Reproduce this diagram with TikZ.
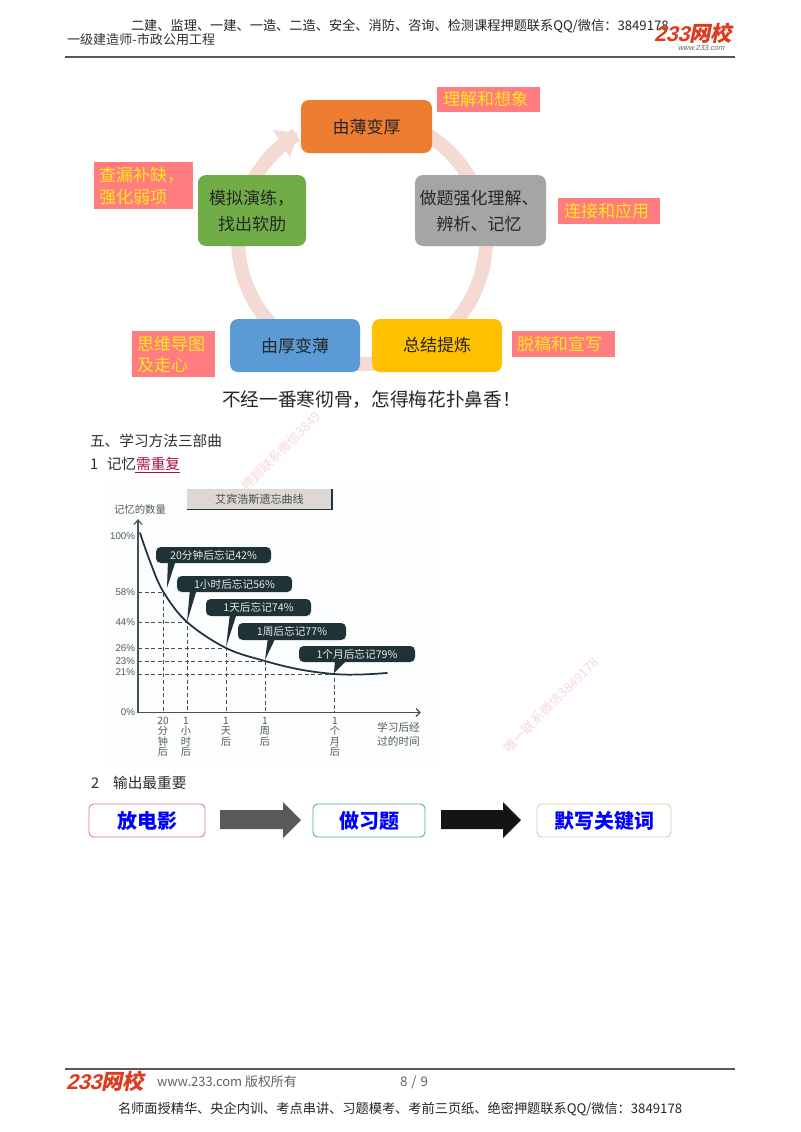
\documentclass[tikz,border=0pt]{standalone}
\usepackage{fontspec}
\setmainfont{Noto Sans CJK SC}
\newfontfamily\latinf{Liberation Sans}
\newfontfamily\logolat[FakeSlant=0.25]{Liberation Sans}
\newfontfamily\logocjk[FakeSlant=0.2]{Noto Sans CJK SC}
\definecolor{ringc}{HTML}{F5D9D3}
\definecolor{orangeb}{HTML}{ED7D31}
\definecolor{greenb}{HTML}{70AD47}
\definecolor{greyb}{HTML}{A5A5A5}
\definecolor{blueb}{HTML}{5B9BD5}
\definecolor{yellowb}{HTML}{FFC000}
\definecolor{pinkl}{HTML}{FF7C80}
\definecolor{yellowt}{HTML}{FFE81A}
\definecolor{calloutc}{HTML}{1F3236}
\definecolor{axisc}{HTML}{4A4F50}
\definecolor{lablc}{HTML}{55595A}
\definecolor{logored}{HTML}{DE3A1E}
\definecolor{wmark}{HTML}{F6D8DA}
\definecolor{chartbg}{HTML}{FBFDFE}
\definecolor{btnc}{HTML}{DDD8D4}
\definecolor{redt}{HTML}{A5123F}
\definecolor{fa}{HTML}{D9789B}
\definecolor{fb}{HTML}{5BA8B8}
\definecolor{fc}{HTML}{CDD6A8}
\newcommand{\pxbox}[7]{%
  \pgfmathsetmacro{\bw}{(#5-#3)*0.75}%
  \pgfmathsetmacro{\bh}{(#6-#4)*0.75}%
  \node[#2,minimum width=\bw pt,minimum height=\bh pt] (#1) at ({(#3+#5)/2},{(#4+#6)/2}) {#7};}
\tikzset{
  px/.style={inner sep=0pt,outer sep=0pt},
  cyc/.style={px,rounded corners=6pt,font=\fontsize{12.75pt}{15pt}\selectfont,text=black!85},
  cyct/.style={px,text=black!85,font=\fontsize{12.75pt}{15pt}\selectfont},
  tag/.style={px,fill=pinkl,text=yellowt,font=\fontsize{12.75pt}{15pt}\selectfont},
  tagt/.style={px,anchor=west,text=yellowt,font=\fontsize{12.75pt}{15pt}\selectfont},
  call/.style={px,rounded corners=3.5pt,fill=calloutc,text=white!92!black,font=\fontsize{8pt}{9pt}\selectfont},
  ptr/.style={fill=calloutc},
  body/.style={px,anchor=west,text=black!82,font=\fontsize{11pt}{13pt}\selectfont},
  ylab/.style={px,anchor=east,text=lablc,font=\latinf\fontsize{7.3pt}{9pt}\selectfont},
  xlab/.style={px,text=lablc,align=center,anchor=north,font=\fontsize{7.6pt}{7.9pt}\selectfont},
  guide/.style={densely dashed,line width=0.5pt,axisc},
  flow/.style={px,rounded corners=3.5pt,fill=white,line width=0.7pt,text=blue,font=\fontsize{15pt}{18pt}\selectfont\bfseries},
  wm/.style={px,text=wmark,rotate=45,font=\fontsize{9.6pt}{10pt}\selectfont},
}
\begin{document}
\begin{tikzpicture}[x=0.75pt,y=-0.75pt]
\useasboundingbox (0,0) rectangle (800,1132);
\fill[white] (0,0) rectangle (800,1132);
% header
\node[px,anchor=west,text=black!85,font=\fontsize{9.9pt}{12pt}\selectfont] (hd1) at (131,26) {二建、监理、一建、一造、二造、安全、消防、咨询、检测课程押题联系QQ/微信：3849178};
\node[px,anchor=west,text=black!80,font=\fontsize{9.8pt}{12pt}\selectfont] (hd2) at (67,40) {一级建造师-市政公用工程};
\node[px,anchor=west,text=logored,font=\fontsize{16pt}{16pt}\selectfont\bfseries] (logo1) at (654,33) {\logolat 233\logocjk 网校};
\node[px,text=black!60,font=\logolat\fontsize{5.6pt}{6pt}\selectfont] (logo1b) at (701,48) {www.233.com};
\draw[line width=0.8pt,black!65] (65,57) coordinate (r1a) -- (735,57) coordinate (r1b);
% ring
\draw[ringc,line width=10.5pt] plot[domain=60:-238,samples=90,smooth,variable=\a] ({362+124*cos(\a)},{240-124*sin(\a)});
\fill[ringc] (273,130) -- (298,133) -- (290,157) -- cycle;
% cycle boxes
\pxbox{thick}{cyc,fill=orangeb}{301}{100}{432}{153}{由薄变厚}
\pxbox{train}{cyc,fill=greenb}{198}{175}{306}{246}{}
\node[cyct,anchor=west] (train1) at (209,198) {模拟演练，};
\node[cyct,anchor=west] (train2) at (218,224) {找出软肋};
\pxbox{drill}{cyc,fill=greyb}{415}{175}{546}{246}{}
\node[cyct] (drill1) at (479,198) {做题强化理解、};
\node[cyct] (drill2) at (479,224) {辨析、记忆};
\pxbox{thin}{cyc,fill=blueb}{230}{319}{360}{372}{由厚变薄}
\pxbox{sum}{cyc,fill=yellowb}{372}{319}{502}{372}{总结提炼}
% tags
\pxbox{t1}{tag}{437}{87}{540}{112}{}
\node[tagt] (t1a) at (443,99) {理解和想象};
\pxbox{t2}{tag}{558}{198}{660}{224}{}
\node[tagt] (t2a) at (564,211) {连接和应用};
\pxbox{t3}{tag}{512}{331}{615}{357}{}
\node[tagt] (t3a) at (517,344) {脱稿和宣写};
\pxbox{t4}{tag}{94}{162}{193}{209}{}
\node[tagt] (t4a) at (99,175) {查漏补缺，};
\node[tagt] (t4b) at (99,197) {强化弱项};
\pxbox{t5}{tag}{132}{331}{215}{377}{}
\node[tagt] (t5a) at (137,344) {思维导图};
\node[tagt] (t5b) at (137,365) {及走心};
\node[px,anchor=west,text=black!85,font=\fontsize{14pt}{17pt}\selectfont] (motto) at (222,400) {不经一番寒彻骨，怎得梅花扑鼻香！};
% headings
\node[body] (h5) at (90,441) {五、学习方法三部曲};
\node[body] (h51) at (90,464) {1\hspace{6.5pt}记忆\textcolor{redt}{需重复}};
\draw[line width=0.6pt,redt] (135,472) coordinate (ula) -- (180,472) coordinate (ulb);
% chart background
\fill[chartbg] (105,480) rectangle (440,768);
\node[wm] (wm1) at (281,451) {押题联系微信3849};
\node[wm] (wm2) at (551,705) {唯一联系微信3849178};
% chart button
\pxbox{btn}{px,fill=btnc,text=black!70,font=\fontsize{8.3pt}{9pt}\selectfont}{187}{489}{332}{509}{艾宾浩斯遗忘曲线}
\draw[calloutc,line width=1.1pt] (187,509.5) coordinate (ba) -- (332,509.5) coordinate (bb) -- (332,489) coordinate (bc);
% axes
\node[px,text=lablc,font=\fontsize{7.8pt}{9pt}\selectfont] (ytitle) at (140,510) {记忆的数量};
\coordinate (o) at (138,712.5);
\coordinate (ytip) at (138,520);
\coordinate (xtip) at (420,712.5);
\draw[axisc,line width=0.9pt] (ytip) -- (o) -- (xtip);
\draw[axisc,line width=0.9pt] (134,524.5) -- (ytip) -- (142,524.5);
\draw[axisc,line width=0.9pt] (416,708.5) -- (xtip) -- (416,716.5);
\foreach \nm/\t/\yy in {y100/100\%/536,y58/58\%/592,y44/44\%/622,y26/26\%/648,y23/23\%/661,y21/21\%/672,y0/0\%/712}{
  \node[ylab] (\nm) at (135,\yy) {\t};
}
% guides
\foreach \xx/\yy in {163.5/592,187/622,226/648,265/661,334/674}{
  \draw[guide] (138,\yy) -- (\xx,\yy) -- (\xx,712);
}
% curve
\draw[calloutc,line width=1.3pt,line cap=round] plot[smooth,tension=0.6] coordinates {(140,533) (151,564) (163.5,592) (187,622) (226,648) (265,661) (300,669.5) (334,674) (360,674.5) (387,673)};
% callouts
\fill[ptr] (168,560) -- (176,560) -- (167,588) -- cycle;
\pxbox{c1}{call}{156}{547}{271}{563}{20分钟后忘记42\%}
\fill[ptr] (190,589) -- (197,589) -- (187,622) -- cycle;
\pxbox{c2}{call}{177}{576}{292}{592}{1小时后忘记56\%}
\fill[ptr] (230,613) -- (237,613) -- (226,647) -- cycle;
\pxbox{c3}{call}{206}{599}{311}{616}{1天后忘记74\%}
\fill[ptr] (268,637) -- (276,637) -- (265,660) -- cycle;
\pxbox{c4}{call}{238}{623}{346}{640}{1周后忘记77\%}
\fill[ptr] (335,659) -- (348,659) -- (334,673) -- cycle;
\pxbox{c5}{call}{299}{646}{415}{662}{1个月后忘记79\%}
% x labels
\node[xlab] (x1) at (163,717) {20\\分\\钟\\后};
\node[xlab] (x2) at (186,717) {1\\小\\时\\后};
\node[xlab] (x3) at (226,717) {1\\天\\后};
\node[xlab] (x4) at (265,717) {1\\周\\后};
\node[xlab] (x5) at (335,717) {1\\个\\月\\后};
\node[px,text=lablc,align=left,font=\fontsize{8pt}{10.5pt}\selectfont] (xt) at (398.5,734) {学习后经\\过的时间};
% second heading
\node[body] (h52) at (91,783) {2\hspace{10.5pt}输出最重要};
% flow
\pxbox{f1}{flow,draw=fa}{89}{804}{205}{837}{放电影}
\pxbox{f2}{flow,draw=fb}{313}{804}{425}{837}{做习题}
\pxbox{f3}{flow,draw=fc}{537}{804}{671}{837}{默写关键词}
\fill[black!65] (220,810) -- (283,810) -- (283,802) -- (301,820) -- (283,838) -- (283,829) -- (220,829) -- cycle;
\fill[black!92] (441,810) -- (503,810) -- (503,802) -- (521,820) -- (503,838) -- (503,829) -- (441,829) -- cycle;
% footer
\draw[line width=0.8pt,black!65] (65,1069) coordinate (r2a) -- (735,1069) coordinate (r2b);
\node[px,anchor=west,text=logored,font=\fontsize{16pt}{16pt}\selectfont\bfseries] (logo2) at (66,1081) {\logolat 233\logocjk 网校};
\node[px,anchor=west,text=black!62,font=\fontsize{9.7pt}{12pt}\selectfont] (copy) at (157,1082) {www.233.com 版权所有};
\node[px,anchor=west,text=black!62,font=\fontsize{10pt}{12pt}\selectfont] (page) at (400,1082) {8\hspace{3pt}/\hspace{3pt}9};
\node[px,anchor=west,text=black!85,font=\fontsize{9.9pt}{12pt}\selectfont] (ft) at (118,1109) {名师面授精华、央企内训、考点串讲、习题模考、考前三页纸、绝密押题联系QQ/微信：3849178};
\end{tikzpicture}
\end{document}
